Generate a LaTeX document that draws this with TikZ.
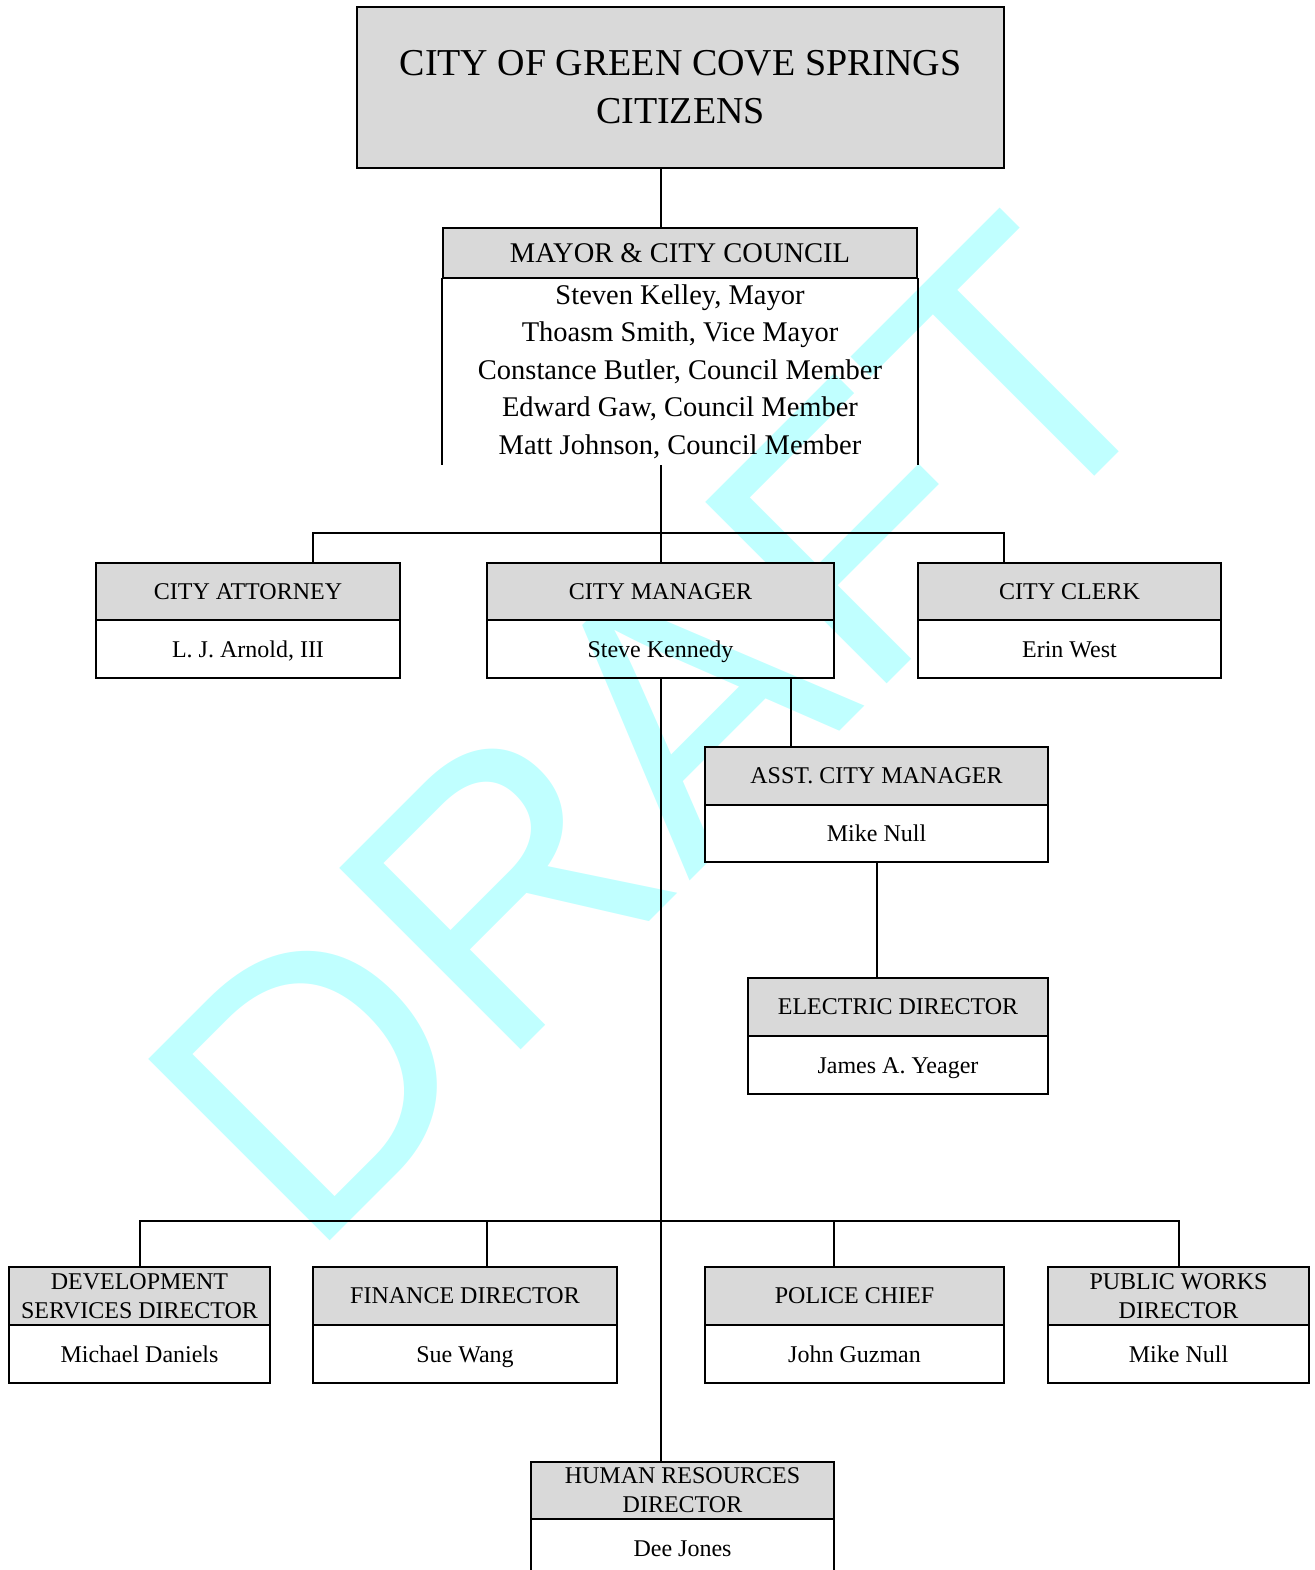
\documentclass[tikz,border=0pt]{standalone}
\usepackage{fontspec}
\setmainfont{Liberation Serif}
\newfontfamily\draftfont{Liberation Sans}
\usetikzlibrary{positioning}
\definecolor{headgray}{RGB}{217,217,217}
\definecolor{draftcyan}{RGB}{192,255,255}

\begin{document}
\begin{tikzpicture}[x=1pt, y=-1pt, line width=2pt,
    headbox/.style={draw, fill=headgray, inner sep=0pt, outer sep=0pt, align=center,
      font=\fontsize{24}{29}\selectfont},
    namebox/.style={draw, fill=white, inner sep=0pt, outer sep=0pt, align=center,
      text height=16pt, text depth=0pt, font=\fontsize{24}{29}\selectfont}]
    \useasboundingbox (0,0) rectangle (1314,1570);

    % watermark first, the boxes are laid over it
    \node[rotate=45, anchor=base west, inner sep=0pt, text=draftcyan,
      font=\draftfont\fontsize{373}{373}\selectfont] (draft) at (308,1263) {DRAFT};

    % citizens and council
    \node[headbox, minimum width=647, minimum height=161, font=\fontsize{38}{48}\selectfont]
      (citizens) at (680.5,87.5) {CITY OF GREEN COVE SPRINGS\\CITIZENS};
    \node[headbox, minimum width=474, minimum height=50, font=\fontsize{28.5}{37}\selectfont]
      (mayor) at (680,253) {MAYOR \& CITY COUNCIL};
    \node[below=0pt of mayor, minimum width=474, minimum height=185, inner sep=0pt,
      align=center, font=\fontsize{28.5}{37.5}\selectfont] (council)
      {Steven Kelley, Mayor\\Thoasm Smith, Vice Mayor\\Constance Butler, Council Member\\
       Edward Gaw, Council Member\\Matt Johnson, Council Member};
    \draw (council.north west) -- (council.south west);
    \draw (council.north east) -- (council.south east);

    % appointed officials
    \node[headbox, minimum width=304, minimum height=57] (atty) at (248,591.5) {CITY ATTORNEY};
    \node[namebox, below=0pt of atty, minimum width=304, minimum height=58] (attyname) {L. J. Arnold, III};
    \node[headbox, minimum width=347, minimum height=57] (mgr) at (660.5,591.5) {CITY MANAGER};
    \node[namebox, fill=none, below=0pt of mgr, minimum width=347, minimum height=58] (mgrname) {Steve Kennedy};
    \node[headbox, minimum width=303, minimum height=57] (clerk) at (1069.5,591.5) {CITY CLERK};
    \node[namebox, below=0pt of clerk, minimum width=303, minimum height=58] (clerkname) {Erin West};

    \node[headbox, minimum width=343, minimum height=58] (asst) at (876.5,776) {ASST. CITY MANAGER};
    \node[namebox, below=0pt of asst, minimum width=343, minimum height=57] (asstname) {Mike Null};
    \node[headbox, minimum width=300, minimum height=58] (elec) at (898,1007) {ELECTRIC DIRECTOR};
    \node[namebox, below=0pt of elec, minimum width=300, minimum height=58] (elecname) {James A. Yeager};

    % department heads
    \node[headbox, minimum width=261, minimum height=58] (dev) at (139.5,1296) {DEVELOPMENT\\SERVICES DIRECTOR};
    \node[namebox, below=0pt of dev, minimum width=261, minimum height=58] (devname) {Michael Daniels};
    \node[headbox, minimum width=304, minimum height=58] (fin) at (465,1296) {FINANCE DIRECTOR};
    \node[namebox, below=0pt of fin, minimum width=304, minimum height=58] (finname) {Sue Wang};
    \node[headbox, minimum width=299, minimum height=58] (police) at (854.5,1296) {POLICE CHIEF};
    \node[namebox, below=0pt of police, minimum width=299, minimum height=58] (policename) {John Guzman};
    \node[headbox, minimum width=261, minimum height=58] (pw) at (1178.5,1296) {PUBLIC WORKS\\DIRECTOR};
    \node[namebox, below=0pt of pw, minimum width=261, minimum height=58] (pwname) {Mike Null};
    \node[headbox, minimum width=303, minimum height=57] (hr) at (682.5,1490.5) {HUMAN RESOURCES\\DIRECTOR};
    \node[namebox, below=0pt of hr, minimum width=303, minimum height=58] (hrname) {Dee Jones};

    % connectors
    \coordinate (attydrop) at (313,533);
    \coordinate (clerkdrop) at (1004,533);
    \coordinate (asstdrop) at (791,0);
    \coordinate (findrop) at (487,1221);
    \coordinate (poldrop) at (834,1221);
    \draw (citizens.south -| mgr.north) -- (mayor.north -| mgr.north);
    \draw (council.south -| mgr.north) -- (mgr.north);
    \draw (attydrop |- atty.north) -- (attydrop) -- (clerkdrop) -- (clerkdrop |- clerk.north);
    \draw (mgrname.south -| asstdrop) -- (asst.north -| asstdrop);
    \draw (asstname.south) -- (asstname.south |- elec.north);
    \draw (mgrname.south) -- (mgrname.south |- hr.north);
    \draw (dev.north) |- (findrop) -| (pw.north);
    \draw (findrop) -- (findrop |- fin.north);
    \draw (poldrop) -- (poldrop |- police.north);
\end{tikzpicture}
\end{document}
